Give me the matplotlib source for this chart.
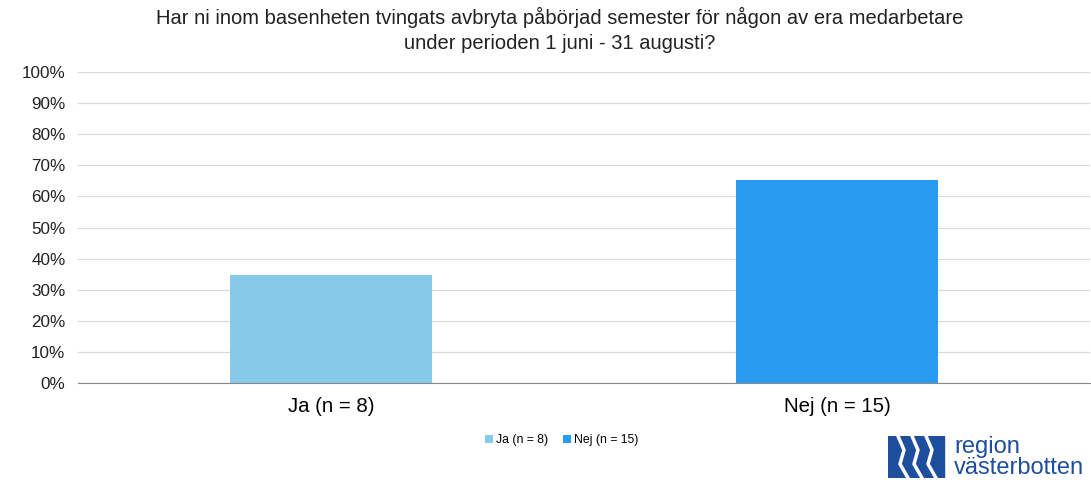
import matplotlib.pyplot as plt
from matplotlib.patches import Rectangle
from matplotlib.ticker import PercentFormatter

plt.rcParams['font.family'] = ['Liberation Sans', 'DejaVu Sans']

# Data
categories = ['Ja (n = 8)', 'Nej (n = 15)']
counts = [8, 15]
colors = ['#86C9E8', '#299BF0']
total = sum(counts)
shares = [c / total * 100 for c in counts]

fig = plt.figure(figsize=(10.91, 4.8), dpi=100)
ax = fig.add_axes([78 / 1091, 1 - 383 / 480, 1012 / 1091, 311 / 480])

bars = ax.bar(range(len(categories)), shares, width=0.4, color=colors, label=categories)

ax.set_xlim(-0.5, 1.5)
ax.set_ylim(0, 100)
ax.set_yticks(range(0, 101, 10))
ax.yaxis.set_major_formatter(PercentFormatter(decimals=0))
ax.set_xticks(range(len(categories)))
ax.set_xticklabels(categories, fontsize=14.7)
ax.tick_params(axis='y', labelsize=12.3, length=0, pad=9, colors='#222222')
ax.tick_params(axis='x', length=0, pad=10)
ax.grid(axis='y', color='#d9d9d9', linewidth=0.9)
ax.set_axisbelow(True)
for s in ['top', 'right', 'left']:
    ax.spines[s].set_visible(False)
ax.spines['bottom'].set_color('#888888')

fig.text(560 / 1091, 1 - 30 / 480,
         'Har ni inom basenheten tvingats avbryta påbörjad semester för någon av era medarbetare\n'
         'under perioden 1 juni - 31 augusti?',
         ha='center', va='center', fontsize=14.5, linespacing=1.4, color='#222222')

fig.legend(handles=bars, labels=categories, loc='center', bbox_to_anchor=(562 / 1091, 1 - 440 / 480),
           ncol=2, frameon=False, fontsize=8.8, handlelength=0.6, handleheight=0.6,
           handletextpad=0.3, columnspacing=1.2)

# Logo approximation
logo_ax = fig.add_axes([888 / 1091, 1 - 478 / 480, 200 / 1091, 42 / 480])
logo_ax.set_xlim(0, 200)
logo_ax.set_ylim(0, 42)
logo_ax.axis('off')
logo_ax.add_patch(Rectangle((0, 0), 56, 42, color='#1D4F9E'))
for x0 in [10, 24, 38]:
    logo_ax.plot([x0, x0 + 6, x0 + 2, x0 + 10], [42, 28, 14, 0], color='white', linewidth=2.5)
logo_ax.text(66, 31, 'region', color='#1D4F9E', fontsize=17, va='center', ha='left')
logo_ax.text(66, 10, 'västerbotten', color='#1D4F9E', fontsize=17, va='center', ha='left')

fig.savefig('out.png', dpi=100)
